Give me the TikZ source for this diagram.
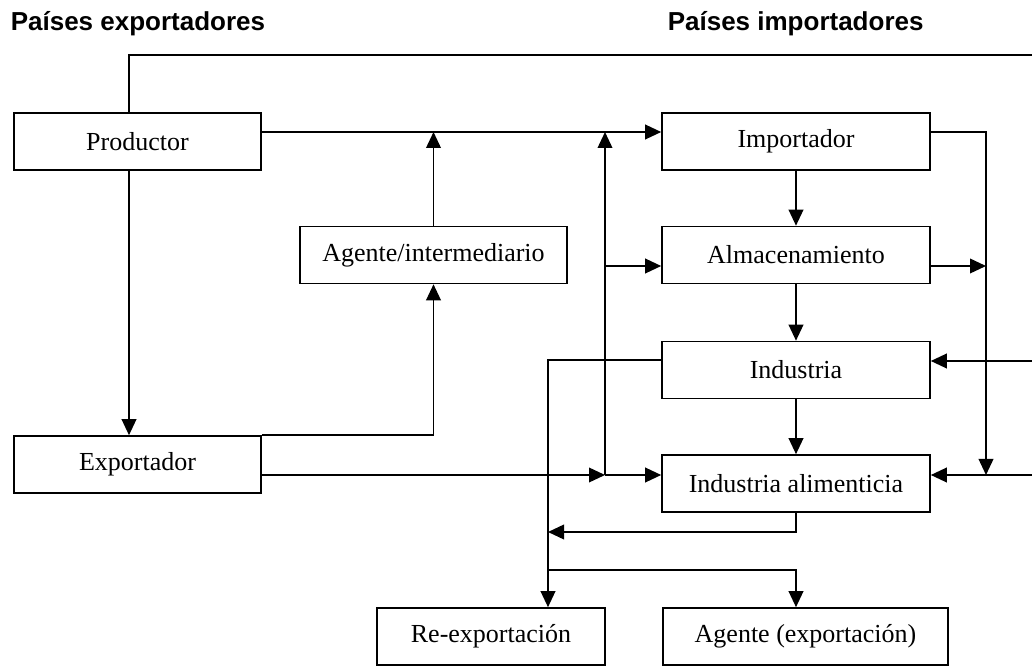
\documentclass[tikz,border=0pt]{standalone}
\usepackage{fontspec}
\setmainfont{Liberation Serif}
\newfontfamily\headfont{Liberation Sans}
\usetikzlibrary{arrows.meta}

\begin{document}
\begin{tikzpicture}[x=0.75pt, y=-0.75pt, line width=1.2pt,
  >={Triangle[length=12pt, width=11pt]},
  box/.style={rectangle, draw, inner sep=0pt, minimum height=42.75pt, font=\fontsize{19.5}{23}\selectfont}]
  \useasboundingbox (0, 0) rectangle (1032, 666);
  % Header
  \node (hexp) [anchor=base west, inner sep=0pt, font=\headfont\bfseries\fontsize{19.5}{23}\selectfont] at (10, 31) {Países exportadores};
  \node (himp) [anchor=base west, inner sep=0pt, font=\headfont\bfseries\fontsize{19.5}{23}\selectfont] at (667, 31) {Países importadores};
  % Nodes
  \node (prod) [box, minimum width=185.25pt] at (137.5, 141.5) {Productor};
  \node (expo) [box, minimum width=185.25pt] at (137.5, 464.5) {Exportador};
  \node (agent) [box, minimum width=200.25pt] at (433.5, 255) {Agente/intermediario};
  \node (imp) [box, minimum width=201pt] at (796, 141.5) {Importador};
  \node (alm) [box, minimum width=201pt] at (796, 255) {Almacenamiento};
  \node (ind) [box, minimum width=201pt] at (796, 370) {Industria};
  \node (ialim) [box, minimum width=201pt] at (796, 483.5) {Industria alimenticia};
  \node (reexp) [box, minimum width=171pt] at (491, 636.5) {Re-exportación};
  \node (agexp) [box, minimum width=213.75pt] at (805.5, 636.5) {Agente (exportación)};
  % Junctions
  \coordinate (topL) at (129, 55);
  \coordinate (topR) at (1032, 55);
  \coordinate (jA) at (605, 132);
  \coordinate (jB) at (605, 475);
  \coordinate (jC) at (605, 266);
  \coordinate (rA) at (986, 266);
  \coordinate (rB) at (986, 475);
  \coordinate (edgeI) at (1032, 361);
  \coordinate (edgeF) at (1032, 475);
  \coordinate (lA) at (548, 360);
  \coordinate (lB) at (548, 532);
  \coordinate (lC) at (548, 570);
  % Arrows
  \draw (prod.north -| topL) -- (topL) -- (topR);
  \draw[->] (prod.east |- jA) -- (imp.west |- jA);
  \draw[->] (prod.south -| topL) -- (expo.north -| topL);
  \draw[->] (expo.north east) -| (agent.south);
  \draw[->] (agent.north) -- (agent.north |- jA);
  \draw[->] (expo.east |- jB) -- (jB);
  \draw[->] (jB) -- (ialim.west |- jB);
  \draw[->] (jB) -- (jA);
  \draw[->] (jC) -- (alm.west |- jC);
  \draw[->] (imp) -- (alm);
  \draw[->] (alm) -- (ind);
  \draw[->] (ind) -- (ialim);
  \draw[->] (imp.east |- jA) -| (rB);
  \draw[->] (alm.east |- rA) -- (rA);
  \draw[->] (edgeI) -- (ind.east |- edgeI);
  \draw[->] (edgeF) -- (ialim.east |- edgeF);
  \draw[->] (ind.west |- lA) -| (reexp.north -| lA);
  \draw[->] (ialim.south) |- (lB);
  \draw[->] (lC) -| (agexp.north -| ialim.south);
\end{tikzpicture}
\end{document}
